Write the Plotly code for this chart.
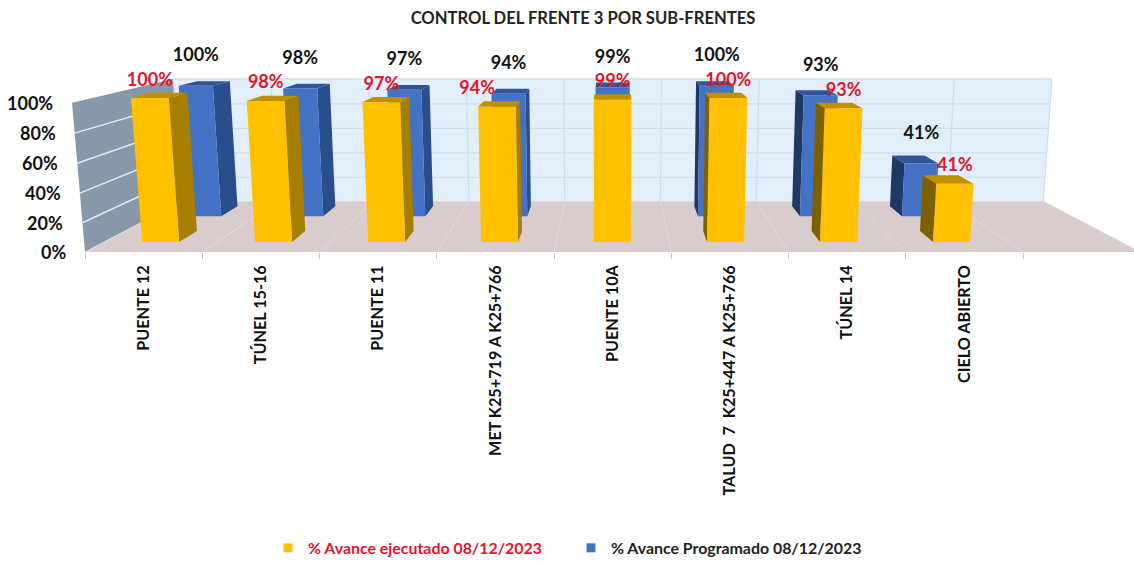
import plotly.graph_objects as go

categories = ["PUENTE 12", "TÚNEL 15-16", "PUENTE 11", "MET K25+719 A K25+766", "PUENTE 10A",
              "TALUD\u00a0 7\u00a0 K25+447 A K25+766", "TÚNEL 14", "CIELO ABIERTO"]
ejecutado = [100, 98, 97, 94, 99, 100, 93, 41]
programado = [100, 98, 97, 94, 99, 100, 93, 41]
y_ticks = [0, 20, 40, 60, 80, 100]
name_ejecutado = "% Avance ejecutado 08/12/2023"
name_programado = "% Avance Programado 08/12/2023"

FONT = "Lato, Carlito, Calibri, sans-serif"
W, H = 1134, 565
FLOOR_PX = 253        # pixel row of the axis baseline
PX_SLOT = 117.25      # px per category at the front of the floor
PX_VAL = 1.5          # px per percent point
LEFT_PX = 85
N_SLOTS = 9           # excel left one empty slot at the end

# excel style perspective
DEPTH = 0.225
TILT = 0.00024
VP_PX = -24
HALF = 0.164


def project(u, d, v):
    # slot position, depth 0-1, value -> axis coordinates
    w = 1 + DEPTH * d - TILT * v
    sx = N_SLOTS / 2 + (u - N_SLOTS / 2) / w
    py = VP_PX + (FLOOR_PX - VP_PX - 1.53 * v) / w
    return sx, (FLOOR_PX - py) / PX_VAL


def quad(pts):
    xs, ys = [], []
    for p in pts + pts[:1]:
        x, y = project(*p)
        xs.append(x)
        ys.append(y)
    return xs + [None], ys + [None]


def poly_trace(polys, color):
    xs, ys = [], []
    for p in polys:
        a, b = quad(p)
        xs += a
        ys += b
    return go.Scatter(x=xs, y=ys, mode="lines", fill="toself", fillcolor=color,
                      line=dict(width=0, color=color), hoverinfo="skip", showlegend=False)


def line_trace(segs, color, width=1):
    xs, ys = [], []
    for a, b in segs:
        x0, y0 = project(*a)
        x1, y1 = project(*b)
        xs += [x0, x1, None]
        ys += [y0, y1, None]
    return go.Scatter(x=xs, y=ys, mode="lines", line=dict(color=color, width=width),
                      hoverinfo="skip", showlegend=False)


def bars(values, d0, d1, front, top, right, left):
    fr, tp, rs, ls = [], [], [], []
    for i, v in enumerate(values):
        u = i + 0.5
        a, b = u - HALF, u + HALF
        fr.append([(a, d0, 0), (b, d0, 0), (b, d0, v), (a, d0, v)])
        tp.append([(a, d0, v), (b, d0, v), (b, d1, v), (a, d1, v)])
        if b < N_SLOTS / 2:
            rs.append([(b, d0, 0), (b, d1, 0), (b, d1, v), (b, d0, v)])
        elif a > N_SLOTS / 2:
            ls.append([(a, d0, 0), (a, d1, 0), (a, d1, v), (a, d0, v)])
    return [poly_trace(rs, right), poly_trace(ls, left), poly_trace(tp, top), poly_trace(fr, front)]


fig = go.Figure()

# walls and floor
fig.add_trace(poly_trace([[(0, 1, 0), (N_SLOTS, 1, 0), (N_SLOTS, 1, 100), (0, 1, 100)]], "#E2EFFA"))
fig.add_trace(poly_trace([[(0, 0, 0), (0, 1, 0), (0, 1, 100), (0, 0, 100)]], "#8798A8"))
fig.add_trace(poly_trace([[(0, 0, 0), (N_SLOTS, 0, 0), (N_SLOTS, 1, 0), (0, 1, 0)]], "#D9CCCD"))

grid_back = [((0, 1, t), (N_SLOTS, 1, t)) for t in y_ticks[1:]]
grid_back += [((s, 1, 0), (s, 1, 100)) for s in range(N_SLOTS + 1)]
fig.add_trace(line_trace(grid_back, "#CFDEEA", 1.2))
fig.add_trace(line_trace([((0, 0, t), (0, 1, t)) for t in y_ticks[1:-1]], "#E4E9EE", 1.5))
fig.add_trace(line_trace([((s, 0, 0), (s, 1, 0)) for s in range(N_SLOTS + 1)], "#E3DADA", 1))

for t in bars(programado, 0.663, 0.884, "#4472C4", "#2F5597", "#2A4D8C", "#1F3864"):
    fig.add_trace(t)
for t in bars(ejecutado, 0.167, 0.364, "#FFC000", "#BF9000", "#A67F00", "#7F6000"):
    fig.add_trace(t)

# data labels
top_x, top_y = zip(*[project(i + 0.5, 0.663, v) for i, v in enumerate(programado)])
fig.add_trace(go.Scatter(x=top_x, y=[y + 29 / PX_VAL for y in top_y], mode="text",
                         text=[f"{v}%" for v in programado], cliponaxis=False,
                         textfont=dict(family=FONT, size=18, color="#111111", weight="bold"),
                         hoverinfo="skip", showlegend=False))
label_nudge = {3: -20 / PX_SLOT}  # the 94% label was dragged left in the original
top_x, top_y = zip(*[project(i + 0.5, 0.167, v) for i, v in enumerate(ejecutado)])
fig.add_trace(go.Scatter(x=[x + label_nudge.get(i, 0) for i, x in enumerate(top_x)],
                         y=[y + 17 / PX_VAL for y in top_y], mode="text",
                         text=[f"{v}%" for v in ejecutado], cliponaxis=False,
                         textfont=dict(family=FONT, size=18, color="#E0162B", weight="bold"),
                         hoverinfo="skip", showlegend=False))

# legend entries
fig.add_trace(go.Scatter(x=[None], y=[None], mode="markers",
                         name=f'<span style="color:#E0162B">{name_ejecutado}</span>',
                         marker=dict(symbol="square", size=9, color="#FFC000")))
fig.add_trace(go.Scatter(x=[None], y=[None], mode="markers",
                         name=name_programado,
                         marker=dict(symbol="square", size=9, color="#4472C4")))

# value axis labels follow the tilted wall edge
for t in y_ticks:
    x, y = project(0, 0, t)
    fig.add_annotation(x=x, y=y, text=f"{t}%", showarrow=False, xanchor="right", xshift=-17,
                       font=dict(family=FONT, size=18, color="#111111", weight="bold"))

fig.update_layout(
    width=W, height=H,
    margin=dict(l=0, r=0, t=0, b=H - FLOOR_PX),
    paper_bgcolor="white", plot_bgcolor="white",
    title=dict(text="<b>CONTROL DEL FRENTE 3 POR SUB-FRENTES</b>", x=583 / W, y=1 - 18 / H,
               xanchor="center", yanchor="middle", xref="paper", yref="container",
               font=dict(family=FONT, size=16.6, color="#222222")),
    xaxis=dict(range=[-LEFT_PX / PX_SLOT, (W - LEFT_PX) / PX_SLOT], showgrid=False, zeroline=False,
               tickvals=[i + 0.5 for i in range(len(categories))], ticktext=categories,
               tickangle=-90, ticks="", ticklabelstandoff=9,
               tickfont=dict(family=FONT, size=16.2, color="#111111", weight="bold"),
               minor=dict(tickvals=list(range(N_SLOTS + 1)), ticks="outside", ticklen=6,
                          tickcolor="#C8C8C8", tickwidth=1)),
    yaxis=dict(range=[0, FLOOR_PX / PX_VAL], showgrid=False, zeroline=False, showticklabels=False),
    legend=dict(orientation="h", x=268 / W, xanchor="left", y=(FLOOR_PX - 550) / FLOOR_PX, yanchor="middle",
                entrywidth=258, entrywidthmode="pixels", bgcolor="rgba(0,0,0,0)",
                font=dict(family=FONT, size=15.9, color="#222222", weight="bold")),
)

fig.write_html("out.html", config=dict(displayModeBar=False), post_script="document.body.style.margin='0';")
